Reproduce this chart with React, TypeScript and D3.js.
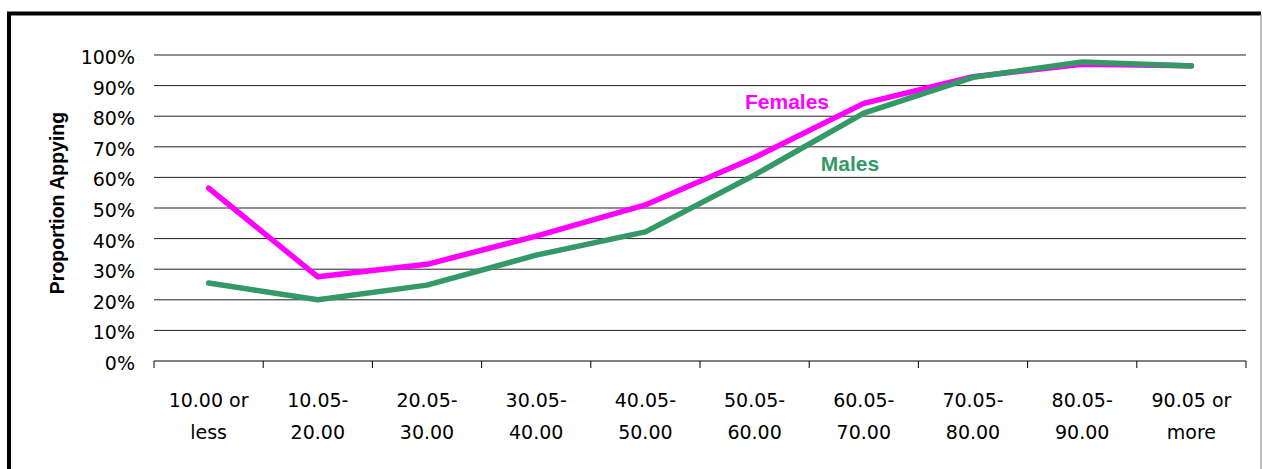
import React from "react";
import * as d3 from "d3";

const categories = [
  ["10.00 or", "less"],
  ["10.05-", "20.00"],
  ["20.05-", "30.00"],
  ["30.05-", "40.00"],
  ["40.05-", "50.00"],
  ["50.05-", "60.00"],
  ["60.05-", "70.00"],
  ["70.05-", "80.00"],
  ["80.05-", "90.00"],
  ["90.05 or", "more"],
];
const females = [56.5, 27.5, 31.6, 40.8, 51, 66.5, 84.2, 92.9, 97, 96.5];
const males = [25.5, 20, 24.8, 34.6, 42.2, 60.8, 81, 92.7, 97.7, 96.4];
const yTicks = [0, 10, 20, 30, 40, 50, 60, 70, 80, 90, 100];

const W = 1263;
const H = 469;
const left = 154;
const right = 1246;
const top = 55;
const bottom = 361;

export default function App() {
  const keys = categories.map((_, i) => String(i));
  const x = d3.scaleBand<string>().domain(keys).range([left, right]).padding(0);
  const y = d3.scaleLinear().domain([0, 100]).range([bottom, top]);
  const cx = (i: number) => (x(String(i)) as number) + x.bandwidth() / 2;
  const line = d3
    .line<number>()
    .x((_, i) => cx(i))
    .y((d) => y(d));
  const boundaries = d3.range(categories.length + 1).map((i) => left + i * x.bandwidth());
  const font = "'DejaVu Sans', Verdana, sans-serif";
  return (
    <svg
      width={W}
      height={H}
      style={{ position: "absolute", left: 0, top: 0, background: "#fff" }}
    >
      {/* frame */}
      <line x1={7} x2={1261} y1={13.5} y2={13.5} stroke="#000" strokeWidth={4} />
      <line x1={9} x2={9} y1={12} y2={H} stroke="#000" strokeWidth={4} />
      <line x1={1261} x2={1261} y1={15} y2={H} stroke="#aaa" strokeWidth={1.5} />

      {/* gridlines */}
      {yTicks.map((t) => (
        <line
          key={t}
          x1={left}
          x2={right}
          y1={y(t)}
          y2={y(t)}
          stroke={t === 0 ? "#000" : "#222"}
          strokeWidth={1}
        />
      ))}
      {/* x ticks */}
      {boundaries.map((b, i) => (
        <line key={i} x1={b} x2={b} y1={bottom} y2={bottom + 7} stroke="#000" strokeWidth={1} />
      ))}
      {/* y labels */}
      {yTicks.map((t) => (
        <text
          key={t}
          x={135}
          y={y(t) + 9}
          textAnchor="end"
          fontFamily={font}
          fontSize={19}
          fill="#000"
        >
          {t}%
        </text>
      ))}
      {/* x labels */}
      {categories.map((c, i) => (
        <text key={i} textAnchor="middle" fontFamily={font} fontSize={19} fill="#000">
          <tspan x={cx(i)} y={407}>
            {c[0]}
          </tspan>
          <tspan x={cx(i)} y={439}>
            {c[1]}
          </tspan>
        </text>
      ))}
      {/* axis title */}
      <text
        transform="translate(64,203) rotate(-90)"
        textAnchor="middle"
        fontFamily="'Liberation Sans', Arial, sans-serif"
        fontWeight="bold"
        fontSize={19.5}
        fill="#000"
      >
        Proportion Appying
      </text>

      {/* lines */}
      <path d={line(females) || ""} fill="none" stroke="#FF00FF" strokeWidth={5.5} strokeLinejoin="round" strokeLinecap="round" />
      <path d={line(males) || ""} fill="none" stroke="#339966" strokeWidth={5.5} strokeLinejoin="round" strokeLinecap="round" />

      {/* series labels */}
      <text x={787} y={109} textAnchor="middle" fontFamily="'Liberation Sans', Arial, sans-serif" fontWeight="bold" fontSize={21} fill="#FF00FF">
        Females
      </text>
      <text x={850} y={171} textAnchor="middle" fontFamily="'Liberation Sans', Arial, sans-serif" fontWeight="bold" fontSize={21} fill="#339966">
        Males
      </text>
    </svg>
  );
}
